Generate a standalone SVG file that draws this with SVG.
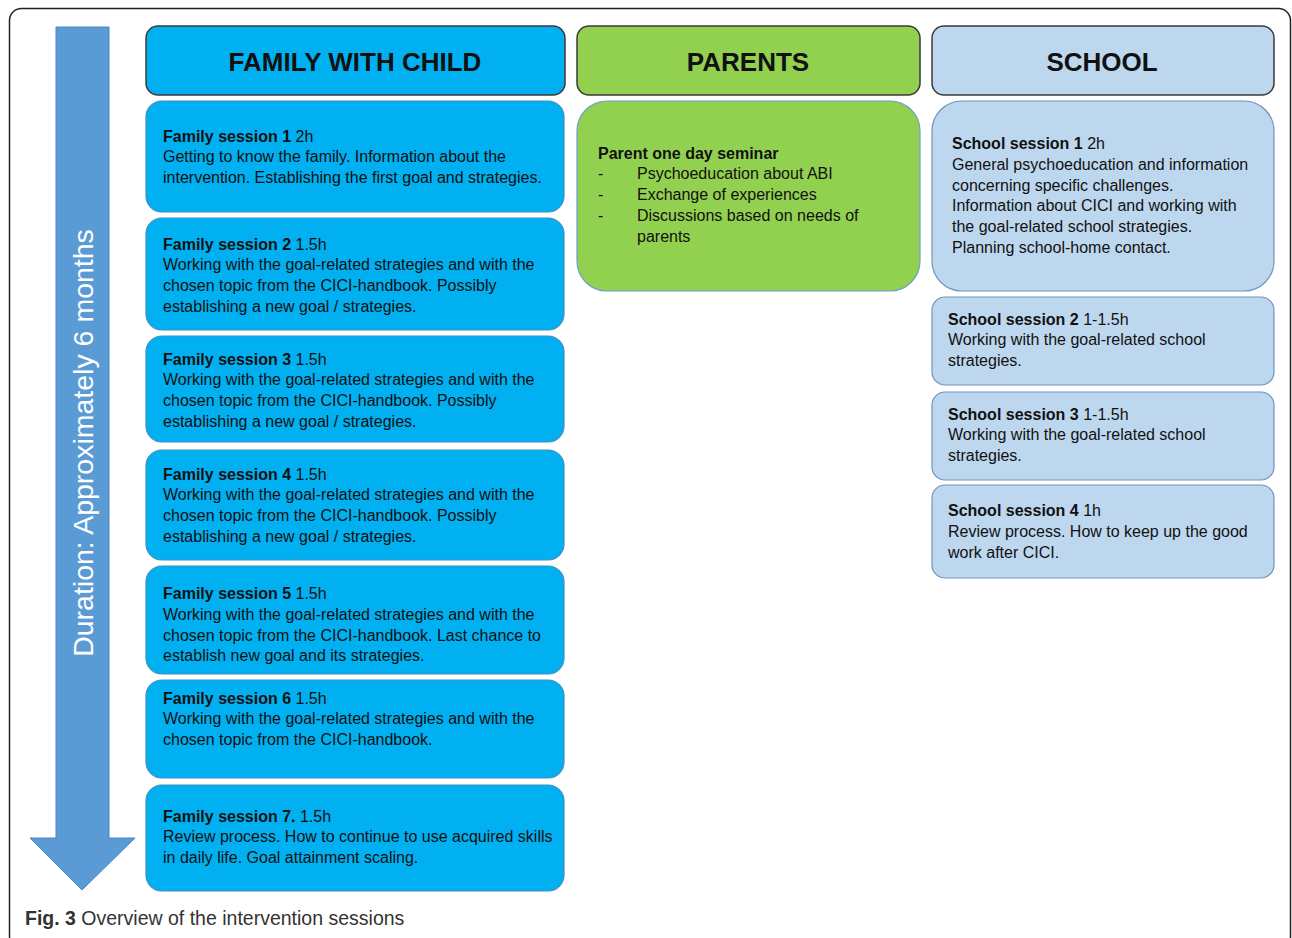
<svg xmlns="http://www.w3.org/2000/svg" width="1292" height="938" viewBox="0 0 1292 938">
<style>
.hdr{stroke:#3a3a3a;stroke-width:1.5}
.fam{fill:#00b0f0;stroke:#3d8fc4;stroke-width:1.2}
.par{fill:#92d050;stroke:#6f9fc8;stroke-width:1.2}
.sch{fill:#bdd7ee;stroke:#6f95bd;stroke-width:1.2}
text{font-family:"Liberation Sans",Arial,sans-serif;fill:#111}
.t{font-size:16px}
.b{font-weight:bold}
.h{font-size:26px;font-weight:bold;text-anchor:middle}
</style>
<rect x="9.5" y="8.5" width="1281" height="940" rx="12" fill="#fff" stroke="#222" stroke-width="1.5"/>
<g id="arrow">
<path d="M56,27 H109 V838 H135 L82,890 L30,838 H56 Z" fill="#5b9bd5" stroke="#4a86bd" stroke-width="1"/>
<text transform="translate(93,443) rotate(-90)" text-anchor="middle" style="font-size:28.5px;fill:#fff">Duration: Approximately 6 months</text>
</g>
<g id="hdr-family"><rect class="hdr" x="146" y="26" width="419" height="69" rx="12" fill="#00b0f0"/><text class="h" x="355" y="71">FAMILY WITH CHILD</text></g>
<g id="hdr-parents"><rect class="hdr" x="577" y="26" width="343" height="69" rx="12" fill="#92d050"/><text class="h" x="748" y="71">PARENTS</text></g>
<g id="hdr-school"><rect class="hdr" x="932" y="26" width="342" height="69" rx="12" fill="#bdd7ee"/><text class="h" x="1102" y="71">SCHOOL</text></g>

<g id="family1"><rect class="fam" x="146" y="101" width="418" height="111" rx="16"/>
<text class="t" x="163" y="142"><tspan class="b">Family session 1</tspan> 2h</text>
<text class="t" x="163" y="162">Getting to know the family. Information about the</text>
<text class="t" x="163" y="183">intervention. Establishing the first goal and strategies.</text></g>

<g id="family2"><rect class="fam" x="146" y="218" width="418" height="112" rx="16"/>
<text class="t" x="163" y="250"><tspan class="b">Family session 2</tspan> 1.5h</text>
<text class="t" x="163" y="270">Working with the goal-related strategies and with the</text>
<text class="t" x="163" y="291">chosen topic from the CICI-handbook. Possibly</text>
<text class="t" x="163" y="312">establishing a new goal / strategies.</text></g>

<g id="family3"><rect class="fam" x="146" y="336" width="418" height="106" rx="16"/>
<text class="t" x="163" y="365"><tspan class="b">Family session 3</tspan> 1.5h</text>
<text class="t" x="163" y="385">Working with the goal-related strategies and with the</text>
<text class="t" x="163" y="406">chosen topic from the CICI-handbook. Possibly</text>
<text class="t" x="163" y="427">establishing a new goal / strategies.</text></g>

<g id="family4"><rect class="fam" x="146" y="450" width="418" height="110" rx="16"/>
<text class="t" x="163" y="480"><tspan class="b">Family session 4</tspan> 1.5h</text>
<text class="t" x="163" y="500">Working with the goal-related strategies and with the</text>
<text class="t" x="163" y="521">chosen topic from the CICI-handbook. Possibly</text>
<text class="t" x="163" y="542">establishing a new goal / strategies.</text></g>

<g id="family5"><rect class="fam" x="146" y="566" width="418" height="108" rx="16"/>
<text class="t" x="163" y="599"><tspan class="b">Family session 5</tspan> 1.5h</text>
<text class="t" x="163" y="620">Working with the goal-related strategies and with the</text>
<text class="t" x="163" y="641">chosen topic from the CICI-handbook. Last chance to</text>
<text class="t" x="163" y="661">establish new goal and its strategies.</text></g>

<g id="family6"><rect class="fam" x="146" y="680" width="418" height="98" rx="16"/>
<text class="t" x="163" y="704"><tspan class="b">Family session 6</tspan> 1.5h</text>
<text class="t" x="163" y="724">Working with the goal-related strategies and with the</text>
<text class="t" x="163" y="745">chosen topic from the CICI-handbook.</text></g>

<g id="family7"><rect class="fam" x="146" y="785" width="418" height="106" rx="16"/>
<text class="t" x="163" y="822"><tspan class="b">Family session 7.</tspan> 1.5h</text>
<text class="t" x="163" y="842">Review process. How to continue to use acquired skills</text>
<text class="t" x="163" y="863">in daily life. Goal attainment scaling.</text></g>

<g id="parents"><rect class="par" x="577" y="101" width="343" height="190" rx="30"/>
<text class="t" x="598" y="159"><tspan class="b">Parent one day seminar</tspan></text>
<text class="t" x="598" y="179">-</text><text class="t" x="637" y="179">Psychoeducation about ABI</text>
<text class="t" x="598" y="200">-</text><text class="t" x="637" y="200">Exchange of experiences</text>
<text class="t" x="598" y="221">-</text><text class="t" x="637" y="221">Discussions based on needs of</text>
<text class="t" x="637" y="242">parents</text></g>

<g id="school1"><rect class="sch" x="932" y="101" width="342" height="190" rx="30"/>
<text class="t" x="952" y="149"><tspan class="b">School session 1</tspan> 2h</text>
<text class="t" x="952" y="170">General psychoeducation and information</text>
<text class="t" x="952" y="191">concerning specific challenges.</text>
<text class="t" x="952" y="211">Information about CICI and working with</text>
<text class="t" x="952" y="232">the goal-related school strategies.</text>
<text class="t" x="952" y="253">Planning school-home contact.</text></g>

<g id="school2"><rect class="sch" x="932" y="297" width="342" height="88" rx="13"/>
<text class="t" x="948" y="325"><tspan class="b">School session 2</tspan> 1-1.5h</text>
<text class="t" x="948" y="345">Working with the goal-related school</text>
<text class="t" x="948" y="366">strategies.</text></g>

<g id="school3"><rect class="sch" x="932" y="392" width="342" height="88" rx="13"/>
<text class="t" x="948" y="420"><tspan class="b">School session 3</tspan> 1-1.5h</text>
<text class="t" x="948" y="440">Working with the goal-related school</text>
<text class="t" x="948" y="461">strategies.</text></g>

<g id="school4"><rect class="sch" x="932" y="485" width="342" height="93" rx="13"/>
<text class="t" x="948" y="516"><tspan class="b">School session 4</tspan> 1h</text>
<text class="t" x="948" y="537">Review process. How to keep up the good</text>
<text class="t" x="948" y="558">work after CICI.</text></g>

<g id="connectors"></g>

<text x="25" y="925" style="font-size:19.5px;fill:#333"><tspan font-weight="bold">Fig. 3</tspan> Overview of the intervention sessions</text>
</svg>
